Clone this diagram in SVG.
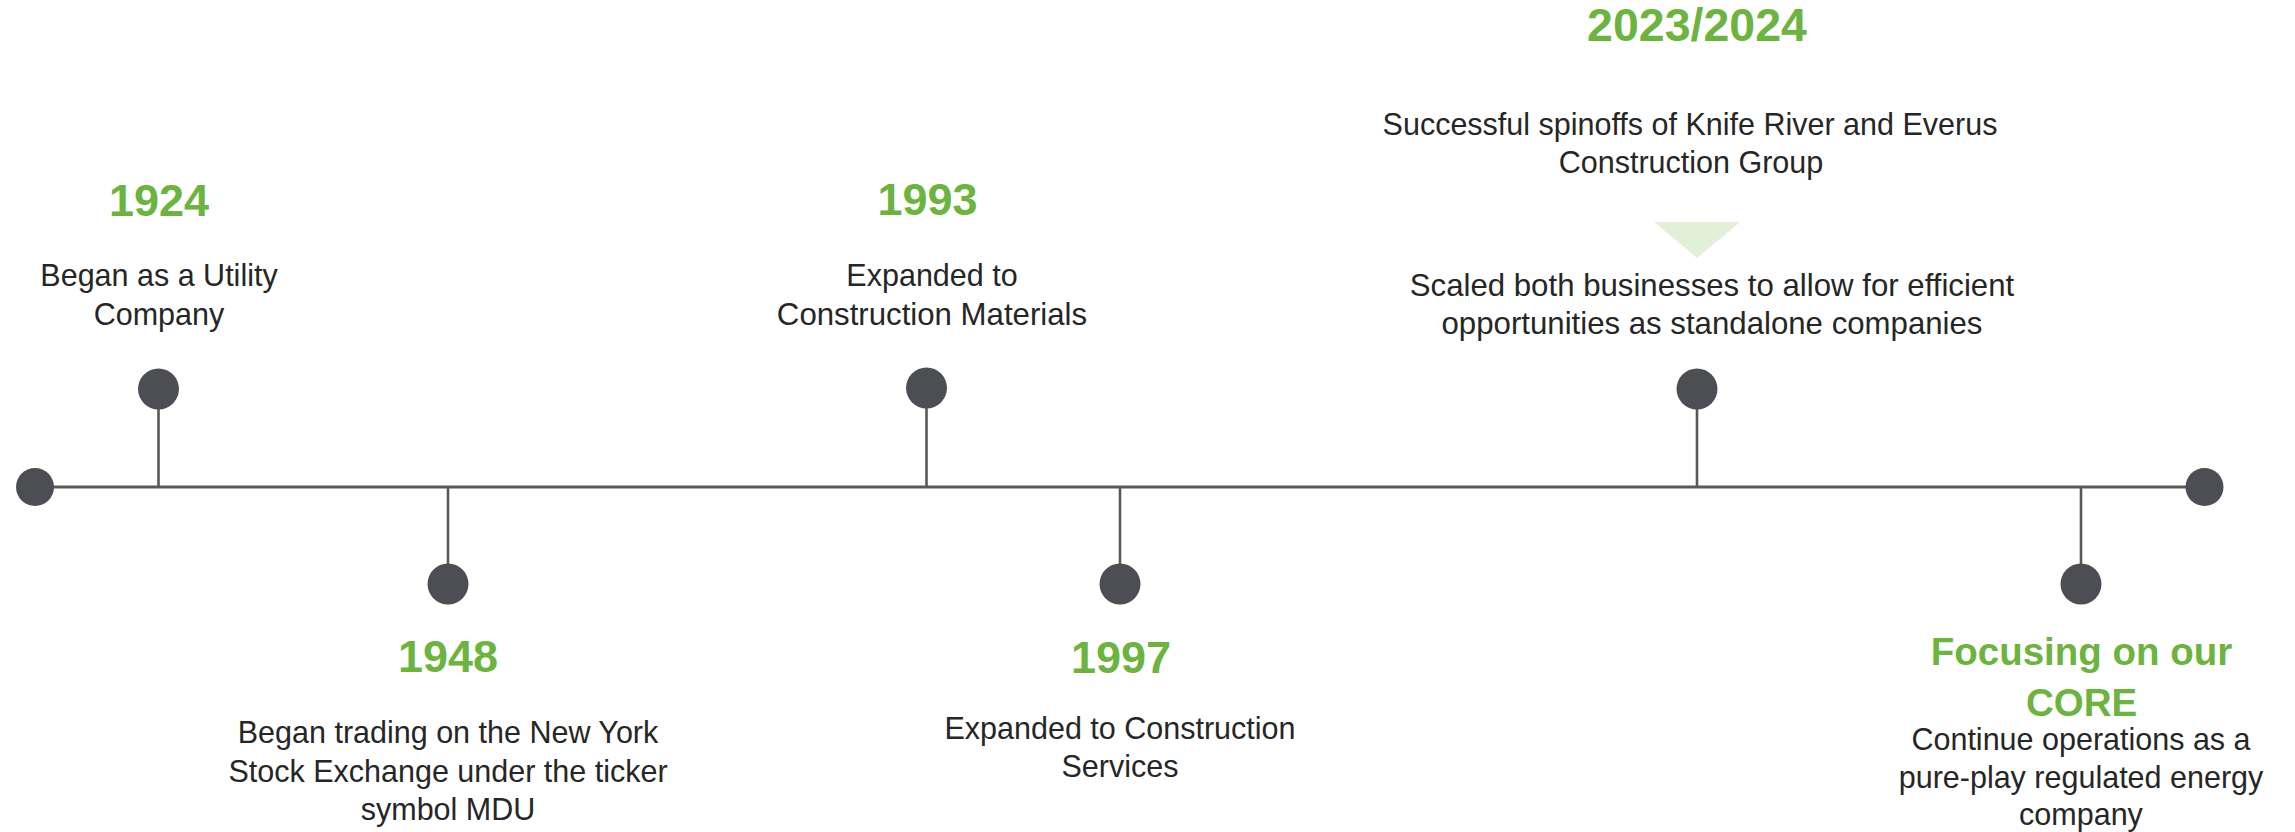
<svg xmlns="http://www.w3.org/2000/svg" width="2295" height="832" viewBox="0 0 2295 832">
  <style>
    .year { font-family: "Liberation Sans", Arial, sans-serif; font-weight: bold; font-size: 45px; fill: #6db33f; text-anchor: middle; }
    .title { font-family: "Liberation Sans", Arial, sans-serif; font-weight: bold; font-size: 38.5px; fill: #6db33f; text-anchor: middle; }
    .body { font-family: "Liberation Sans", Arial, sans-serif; font-size: 30.5px; fill: #262626; text-anchor: middle; }
    .wide { font-size: 31.2px; }
    .dot { fill: #4d4e53; }
    .axis { stroke: #57585d; stroke-width: 2.8; fill: none; }
    .stem { stroke: #57585d; stroke-width: 2.6; fill: none; }
  </style>
  <rect x="0" y="0" width="2295" height="832" fill="#ffffff"/>

  <!-- timeline axis and stems -->
  <g id="connectors">
    <line class="axis" x1="35" y1="487" x2="2204" y2="487"/>
    <line class="stem" x1="158.5" y1="389" x2="158.5" y2="487"/>
    <line class="stem" x1="448" y1="487" x2="448" y2="584"/>
    <line class="stem" x1="926.5" y1="388" x2="926.5" y2="487"/>
    <line class="stem" x1="1120" y1="487" x2="1120" y2="584"/>
    <line class="stem" x1="1697" y1="389" x2="1697" y2="487"/>
    <line class="stem" x1="2081" y1="487" x2="2081" y2="584"/>
  </g>

  <g id="axis-start">
    <circle class="dot" cx="35" cy="487" r="19"/>
  </g>
  <g id="axis-end">
    <circle class="dot" cx="2204.5" cy="487" r="19"/>
  </g>

  <g id="event-1924">
    <circle class="dot" cx="158.5" cy="389" r="20.5"/>
    <text class="year" x="159" y="216">1924</text>
    <text class="body" x="159" y="286">Began as a Utility</text>
    <text class="body" x="159" y="325">Company</text>
  </g>

  <g id="event-1948">
    <circle class="dot" cx="448" cy="584" r="20.5"/>
    <text class="year" x="448" y="672">1948</text>
    <text class="body" x="448" y="743">Began trading on the New York</text>
    <text class="body" x="448" y="782">Stock Exchange under the ticker</text>
    <text class="body" x="448" y="820">symbol MDU</text>
  </g>

  <g id="event-1993">
    <circle class="dot" cx="926.5" cy="388" r="20.5"/>
    <text class="year" x="927.5" y="215">1993</text>
    <text class="body" x="932" y="286">Expanded to</text>
    <text class="body wide" x="932" y="325">Construction Materials</text>
  </g>

  <g id="event-1997">
    <circle class="dot" cx="1120" cy="584" r="20.5"/>
    <text class="year" x="1121" y="673">1997</text>
    <text class="body" x="1120" y="739">Expanded to Construction</text>
    <text class="body" x="1120" y="777">Services</text>
  </g>

  <g id="event-2023-2024">
    <circle class="dot" cx="1697" cy="389" r="20.5"/>
    <text class="year" x="1697" y="41" style="font-size:46.5px">2023/2024</text>
    <text class="body" x="1690" y="135">Successful spinoffs of Knife River and Everus</text>
    <text class="body" x="1691" y="173">Construction Group</text>
    <polygon points="1654,222 1740,222 1697,258" fill="#e2f0d9"/>
    <text class="body wide" x="1712" y="296">Scaled both businesses to allow for efficient</text>
    <text class="body wide" x="1712" y="334">opportunities as standalone companies</text>
  </g>

  <g id="event-core">
    <circle class="dot" cx="2081" cy="584" r="20.5"/>
    <text class="title" x="2081.5" y="665">Focusing on our</text>
    <text class="title" x="2081.5" y="716">CORE</text>
    <text class="body" x="2081" y="750">Continue operations as a</text>
    <text class="body" x="2081" y="788">pure-play regulated energy</text>
    <text class="body" x="2081" y="825">company</text>
  </g>
</svg>
